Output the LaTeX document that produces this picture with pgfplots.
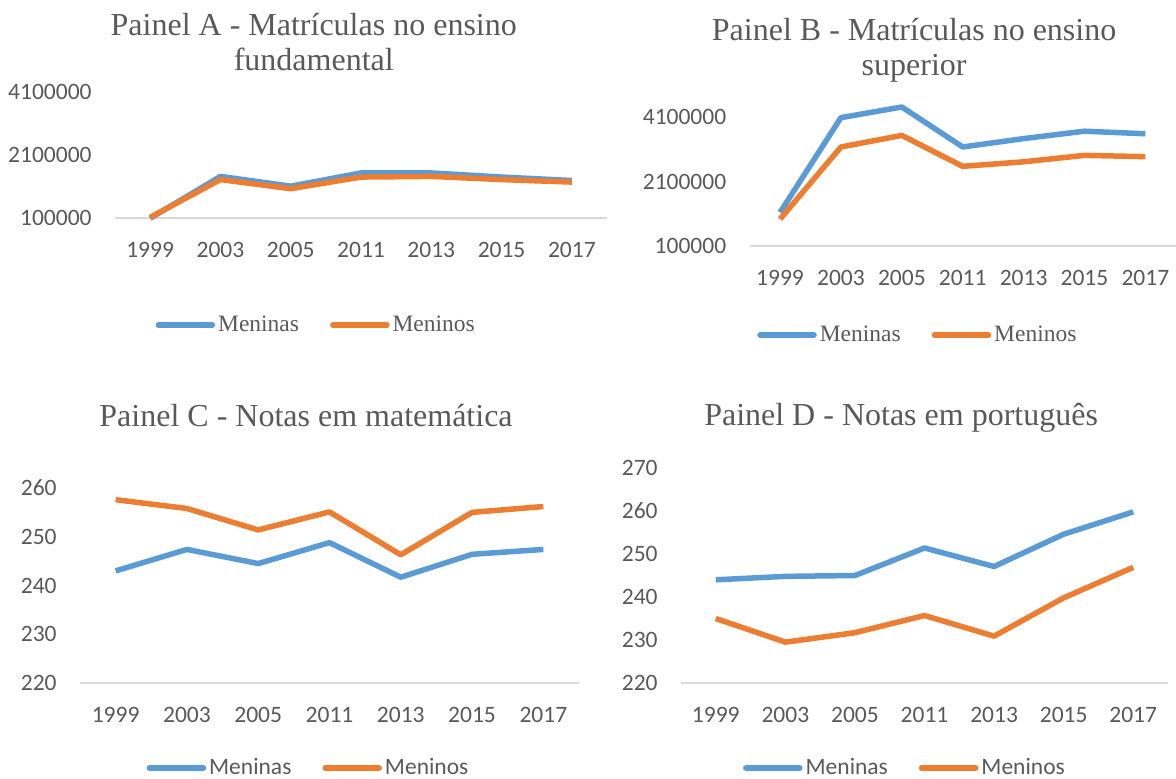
\documentclass[border=0pt]{standalone}
\usepackage{pgfplots}
\pgfplotsset{compat=1.18}
\usepackage{fontspec}
\setmainfont{Liberation Serif}
\newfontfamily\calfont{Carlito}
\definecolor{txt}{HTML}{595959}
\definecolor{blu}{HTML}{5B9BD5}
\definecolor{ora}{HTML}{ED7D31}
\definecolor{axg}{HTML}{D9D9D9}
\tikzset{ttl/.style={font=\fontsize{16}{17.5}\selectfont, text=txt, align=center}}
\pgfplotsset{
 panel/.style={
  scale only axis, anchor=south west, clip=false,
  xmin=-0.5, xmax=6.5, xtick={0,...,6},
  xticklabels={1999,2003,2005,2011,2013,2015,2017},
  scaled y ticks=false,
  /pgf/number format/assume math mode=true,
  axis line style={draw=none}, major tick length=0pt,
  tick label style={font=\calfont\fontsize{11.75}{14}\selectfont, text=txt, inner sep=0pt},
  xticklabel style={anchor=center, yshift=-15.75pt},
  yticklabel style={anchor=east, xshift=-11.5pt},
  legend columns=2,
  legend style={draw=none, fill=none, anchor=center, text=txt,
    /tikz/every even column/.append style={column sep=14pt},
    nodes={inner sep=1.5pt}},
  legend image code/.code={\draw[#1, line width=2.75pt, line cap=round] (0pt,0pt) -- (27pt,0pt);},
  every axis plot/.append style={line width=2.75pt, line join=round, mark=none},
 },
}
\begin{document}
\begin{tikzpicture}
\path[use as bounding box] (0pt,0pt) rectangle (588pt,389pt);
% Panel A
\begin{axis}[panel, at={(57.5pt,280pt)}, width=246pt, height=63pt,
  ymin=100000, ymax=4100000, ytick={100000,2100000,4100000},
  yticklabels={100000,2100000,4100000},
  legend style={at={(0.41,-0.849)}, font=\fontsize{11.75}{14}\selectfont}]
\draw[axg, line width=0.75pt] (rel axis cs:0,0) -- (rel axis cs:1,0);
\addplot[blu] coordinates {(0,90000) (1,1420000) (2,1110000) (3,1530000) (4,1530000) (5,1400000) (6,1290000)};
\addplot[ora] coordinates {(0,120000) (1,1320000) (2,1030000) (3,1400000) (4,1420000) (5,1320000) (6,1240000)};
\legend{Meninas,Meninos}
\node[ttl] at (rel axis cs:0.404,1.393) {Painel A - Matrículas no ensino\\fundamental};
\end{axis}
% Panel B
\begin{axis}[panel, at={(374.8pt,266pt)}, width=213.1pt, height=64.5pt,
  ymin=100000, ymax=4100000, ytick={100000,2100000,4100000},
  yticklabels={100000,2100000,4100000},
  legend style={at={(0.396,-0.690)}, font=\fontsize{11.75}{14}\selectfont}]
\draw[axg, line width=0.75pt] (rel axis cs:0,0) -- (rel axis cs:1,0);
\addplot[blu] coordinates {(0,1140000) (1,4080000) (2,4410000) (3,3170000) (4,3430000) (5,3660000) (6,3580000)};
\addplot[ora] coordinates {(0,935000) (1,3170000) (2,3530000) (3,2570000) (4,2710000) (5,2910000) (6,2870000)};
\legend{Meninas,Meninos}
\node[ttl] at (rel axis cs:0.386,1.519) {Painel B - Matrículas no ensino\\superior};
\end{axis}
% Panel C
\begin{axis}[panel, at={(40pt,47.5pt)}, width=249.5pt, height=97.5pt,
  ymin=220, ymax=260, ytick={220,230,...,260},
  legend style={at={(0.459,-0.436)}, font=\calfont\fontsize{11.75}{14}\selectfont}]
\draw[axg, line width=0.75pt] (rel axis cs:0,0) -- (rel axis cs:1,0);
\addplot[blu] coordinates {(0,243.0) (1,247.4) (2,244.5) (3,248.8) (4,241.7) (5,246.4) (6,247.4)};
\addplot[ora] coordinates {(0,257.6) (1,255.8) (2,251.4) (3,255.1) (4,246.3) (5,255.0) (6,256.2)};
\legend{Meninas,Meninos}
\node[ttl] at (rel axis cs:0.453,1.374) {Painel C - Notas em matemática};
\end{axis}
% Panel D
\begin{axis}[panel, at={(340.5pt,47.5pt)}, width=243.5pt, height=107.5pt,
  ymin=220, ymax=270, ytick={220,230,...,270},
  legend style={at={(0.461,-0.395)}, font=\calfont\fontsize{11.75}{14}\selectfont}]
\draw[axg, line width=0.75pt] (rel axis cs:0,0) -- (rel axis cs:1,0);
\addplot[blu] coordinates {(0,244.0) (1,244.8) (2,245.0) (3,251.4) (4,247.1) (5,254.6) (6,259.8)};
\addplot[ora] coordinates {(0,235.0) (1,229.5) (2,231.7) (3,235.7) (4,230.9) (5,239.8) (6,246.9)};
\legend{Meninas,Meninos}
\node[ttl] at (rel axis cs:0.452,1.233) {Painel D - Notas em português};
\end{axis}
\end{tikzpicture}
\end{document}
